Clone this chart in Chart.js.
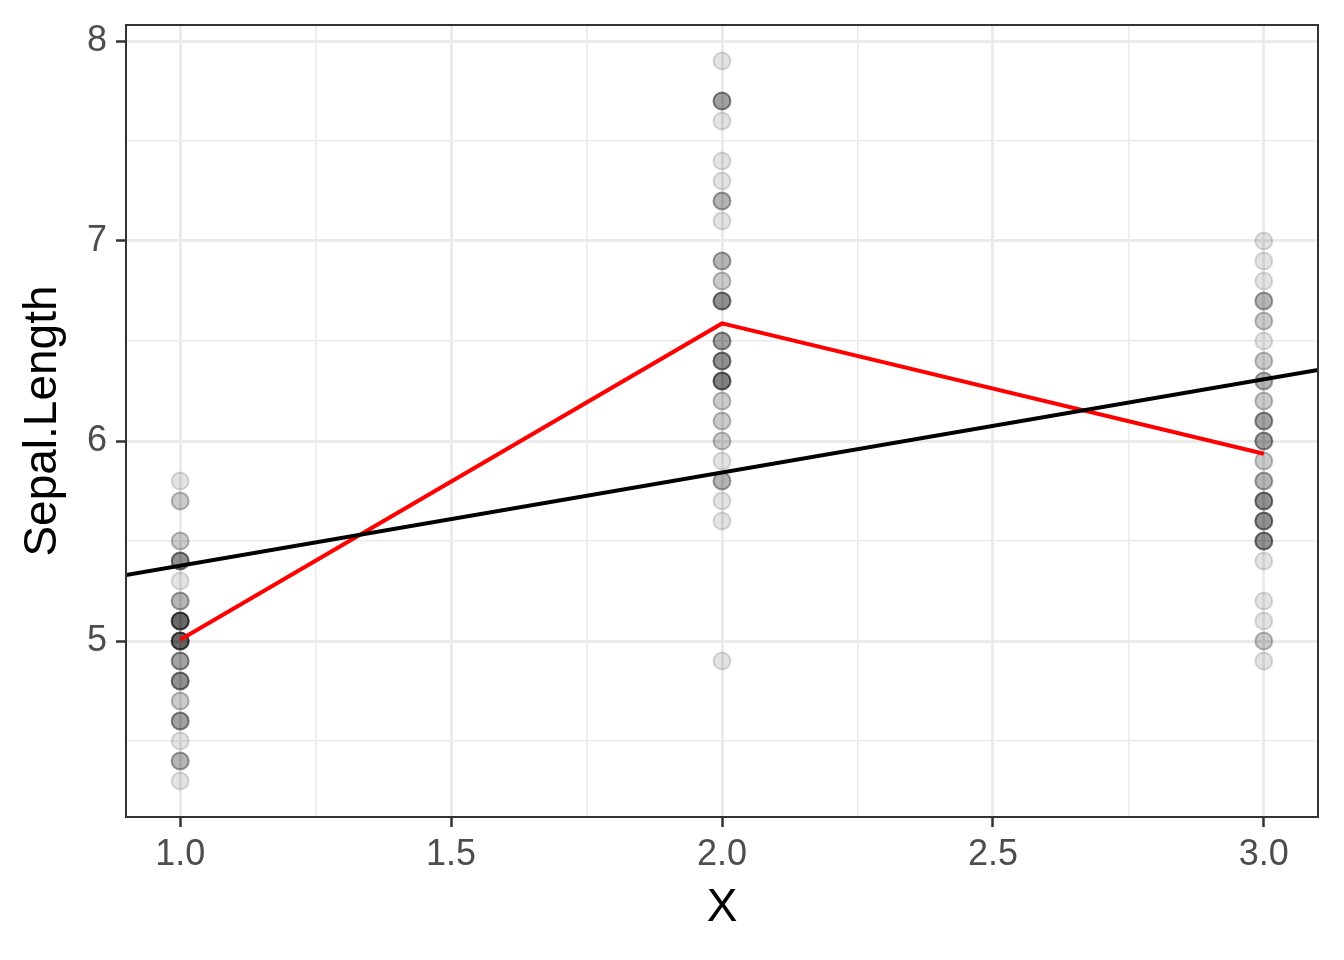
<!DOCTYPE html>
<html>
<head>
<meta charset="utf-8">
<script src="https://cdn.jsdelivr.net/npm/chart.js@4"></script>
<style>
  html, body { margin: 0; padding: 0; background: #fff; }
  #wrap { width: 1344px; height: 960px; }
</style>
</head>
<body>
<div id="wrap"><canvas id="c" width="1344" height="960"></canvas></div>
<script>
// iris Sepal.Length, grouped by X (1 = setosa, 2 = virginica, 3 = versicolor)
const group1 = [5.1,4.9,4.7,4.6,5.0,5.4,4.6,5.0,4.4,4.9,5.4,4.8,4.8,4.3,5.8,5.7,5.4,5.1,5.7,5.1,5.4,5.1,4.6,5.1,4.8,5.0,5.0,5.2,5.2,4.7,4.8,5.4,5.2,5.5,4.9,5.0,5.5,4.9,4.4,5.1,5.0,4.5,4.4,5.0,5.1,4.8,5.1,4.6,5.3,5.0]
const group2 = [6.3,5.8,7.1,6.3,6.5,7.6,4.9,7.3,6.7,7.2,6.5,6.4,6.8,5.7,5.8,6.4,6.5,7.7,7.7,6.0,6.9,5.6,7.7,6.3,6.7,7.2,6.2,6.1,6.4,7.2,7.4,7.9,6.4,6.3,6.1,7.7,6.3,6.4,6.0,6.9,6.7,6.9,5.8,6.8,6.7,6.7,6.3,6.5,6.2,5.9]
const group3 = [7.0,6.4,6.9,5.5,6.5,5.7,6.3,4.9,6.6,5.2,5.0,5.9,6.0,6.1,5.6,6.7,5.6,5.8,6.2,5.6,5.9,6.1,6.3,6.1,6.4,6.6,6.8,6.7,6.0,5.7,5.5,5.5,5.8,6.0,5.4,6.0,6.7,6.3,5.6,5.5,5.5,6.1,5.8,5.0,5.6,5.7,5.7,6.2,5.1,5.7]

// group means (red line)
const meanX = [1, 2, 3]
const meanY = [5.006, 6.588, 5.936]

// linear fit (black line), end points at the panel edges
const fitX = [0.9, 3.1]
const fitY = [5.33, 6.355]

const xTicks = [1, 1.25, 1.5, 1.75, 2, 2.25, 2.5, 2.75, 3]
const yTicks = [4.5, 5, 5.5, 6, 6.5, 7, 7.5, 8]

const pts = [
    ...group1.map(y => ({ x: 1, y })),
    ...group2.map(y => ({ x: 2, y })),
    ...group3.map(y => ({ x: 3, y })),
]

const xMajor = v => Math.abs(v * 2 - Math.round(v * 2)) < 1e-9
const yMajor = v => Math.abs(v - Math.round(v)) < 1e-9

const panelBorder = {
    id: 'panelBorder',
    afterDraw(chart) {
        const { ctx, chartArea: a } = chart
        ctx.save()
        ctx.strokeStyle = '#333333'
        ctx.lineWidth = 2
        ctx.strokeRect(a.left, a.top, a.right - a.left, a.bottom - a.top)
        ctx.restore()
    }
}

const font = 'Liberation Sans, Arial, Helvetica, sans-serif'

new Chart(document.getElementById('c').getContext('2d'), {
    type: 'scatter',
    data: {
        datasets: [
            {
                type: 'line',
                data: fitX.map((x, i) => ({ x, y: fitY[i] })),
                borderColor: '#000000',
                borderWidth: 4,
                pointRadius: 0,
                fill: false,
                order: 0
            },
            {
                type: 'line',
                data: meanX.map((x, i) => ({ x, y: meanY[i] })),
                borderColor: '#ff0000',
                borderWidth: 4,
                pointRadius: 0,
                fill: false,
                order: 1
            },
            {
                data: pts,
                backgroundColor: 'rgba(0,0,0,0.11)',
                borderColor: 'rgba(0,0,0,0.14)',
                borderWidth: 2,
                pointRadius: 8.5,
                pointHoverRadius: 8.5,
                order: 2
            }
        ]
    },
    options: {
        responsive: false,
        animation: false,
        events: [],
        layout: { padding: { top: 25, right: 26, left: 0, bottom: 0 } },
        plugins: { legend: { display: false }, tooltip: { enabled: false } },
        scales: {
            x: {
                type: 'linear',
                min: 0.9,
                max: 3.1,
                afterBuildTicks: s => { s.ticks = xTicks.map(value => ({ value })) },
                afterFit: s => { s.height = 143; s.paddingLeft = 0; s.paddingRight = 0 },
                ticks: {
                    autoSkip: false,
                    maxRotation: 0,
                    padding: 6,
                    color: '#4D4D4D',
                    font: { family: font, size: 36 },
                    callback: v => xMajor(v) ? v.toFixed(1) : ''
                },
                grid: {
                    color: '#EBEBEB',
                    lineWidth: c => xMajor(c.tick.value) ? 3 : 1.6,
                    drawTicks: true,
                    tickLength: 10,
                    tickWidth: 2.5,
                    tickColor: c => xMajor(c.tick.value) ? '#333333' : 'rgba(0,0,0,0)'
                },
                border: { display: false },
                title: {
                    display: true,
                    text: 'X',
                    color: '#000000',
                    font: { family: font, size: 46 },
                    padding: { top: 0, bottom: 24 }
                }
            },
            y: {
                type: 'linear',
                min: 4.12,
                max: 8.08,
                afterBuildTicks: s => { s.ticks = yTicks.map(value => ({ value })) },
                afterFit: s => { s.width = 126; s.paddingTop = 0; s.paddingBottom = 0 },
                ticks: {
                    autoSkip: false,
                    padding: 9,
                    color: '#4D4D4D',
                    font: { family: font, size: 36 },
                    callback: v => yMajor(v) ? String(Math.round(v)) : ''
                },
                grid: {
                    color: '#EBEBEB',
                    lineWidth: c => yMajor(c.tick.value) ? 3 : 1.6,
                    drawTicks: true,
                    tickLength: 10,
                    tickWidth: 2.5,
                    tickColor: c => yMajor(c.tick.value) ? '#333333' : 'rgba(0,0,0,0)'
                },
                border: { display: false },
                title: {
                    display: true,
                    text: 'Sepal.Length',
                    color: '#000000',
                    font: { family: font, size: 46 },
                    padding: { top: 16, bottom: 0 }
                }
            }
        }
    },
    plugins: [panelBorder]
})
</script>
</body>
</html>
